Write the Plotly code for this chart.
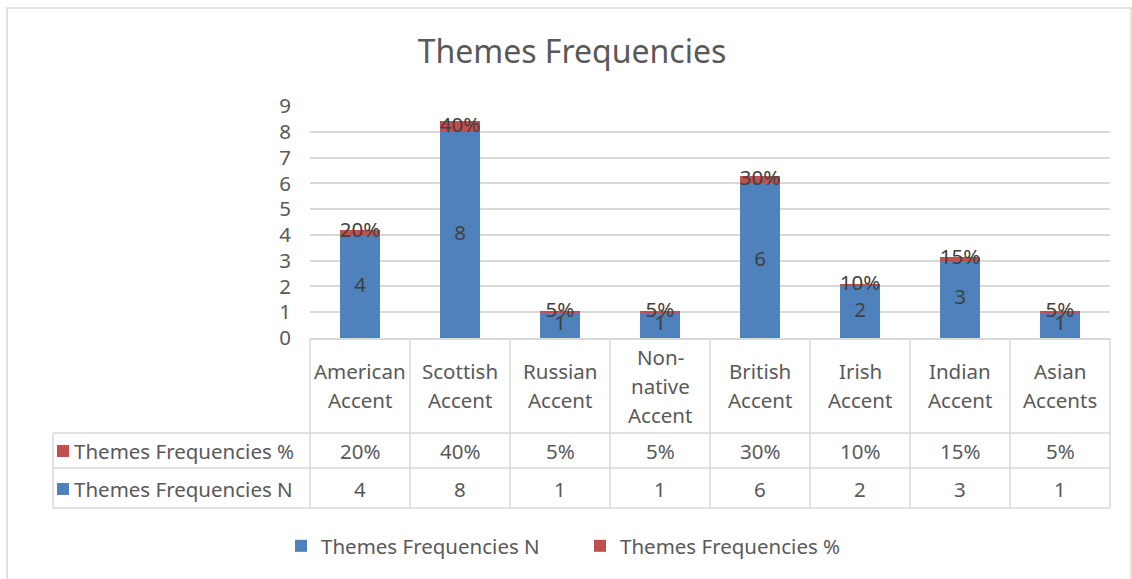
import plotly.graph_objects as go

# ---------------- data ----------------
categories = ["American Accent", "Scottish Accent", "Russian Accent", "Non-native Accent",
              "British Accent", "Irish Accent", "Indian Accent", "Asian Accents"]
category_lines = [["American", "Accent"], ["Scottish", "Accent"], ["Russian", "Accent"],
                  ["Non-", "native", "Accent"], ["British", "Accent"], ["Irish", "Accent"],
                  ["Indian", "Accent"], ["Asian", "Accents"]]
freq_n = [4, 8, 1, 1, 6, 2, 3, 1]
freq_pct = [0.20, 0.40, 0.05, 0.05, 0.30, 0.10, 0.15, 0.05]
y_ticks = [0, 1, 2, 3, 4, 5, 6, 7, 8, 9]
series_names = ["Themes Frequencies N", "Themes Frequencies %"]
title_text = "Themes Frequencies"

# ---------------- style ----------------
W, H = 1132, 579
PL, PR, PT, PB = 310, 1110, 106, 338
BLUE, RED = "#4F81BD", "#C0504D"
GRID = "#D9D9D9"
TXT = "#595959"
DARK = "#404040"
FONT = "Noto Sans"
FS = 20.5


def px_x(p):
    return (p - PL) / (PR - PL)


def px_y(p):
    return (PB - p) / (PB - PT)


def pct_str(v):
    return f"{round(v * 100)}%"


fig = go.Figure()
fig.add_trace(go.Bar(x=categories, y=freq_n, name=series_names[0], marker_color=BLUE,
                     marker_line_width=0, width=0.4))
fig.add_trace(go.Bar(x=categories, y=freq_pct, name=series_names[1], marker_color=RED,
                     marker_line_width=0, width=0.4))

# bar labels (centered in each segment)
fig.add_trace(go.Scatter(x=categories, y=[n / 2 for n in freq_n], mode="text",
                         text=[str(n) for n in freq_n], showlegend=False, hoverinfo="skip",
                         textfont=dict(family=FONT, size=FS, color=DARK), cliponaxis=False))
fig.add_trace(go.Scatter(x=categories, y=[n + p / 2 for n, p in zip(freq_n, freq_pct)],
                         mode="text", text=[pct_str(p) for p in freq_pct], showlegend=False,
                         hoverinfo="skip", textfont=dict(family=FONT, size=FS, color=DARK),
                         cliponaxis=False))

shapes = []
annotations = []
ncat = len(categories)
cell_w = (PR - PL) / ncat

# vertical lines of the data table
for k in range(ncat + 1):
    xp = px_x(PL + k * cell_w)
    shapes.append(dict(type="line", xref="paper", yref="paper", x0=xp, x1=xp,
                       y0=px_y(PB), y1=px_y(508), line=dict(color=GRID, width=1.5)))
# left edge for row headers
shapes.append(dict(type="line", xref="paper", yref="paper", x0=px_x(53), x1=px_x(53),
                   y0=px_y(433), y1=px_y(508), line=dict(color=GRID, width=1.5)))
# horizontal lines
for yy in (433, 468, 508):
    shapes.append(dict(type="line", xref="paper", yref="paper", x0=px_x(53), x1=px_x(PR),
                       y0=px_y(yy), y1=px_y(yy), line=dict(color=GRID, width=1.5)))

# category labels
for i, lines in enumerate(category_lines):
    n = len(lines)
    for k, ln in enumerate(lines):
        yc = 385.5 + (k - (n - 1) / 2) * 29
        annotations.append(dict(x=categories[i], xref="x", y=px_y(yc), yref="paper",
                                text=ln, showarrow=False, xanchor="center", yanchor="middle",
                                font=dict(family=FONT, size=FS, color=TXT)))

# row headers and values
rows = [(series_names[1], RED, [pct_str(p) for p in freq_pct], 451),
        (series_names[0], BLUE, [str(n) for n in freq_n], 489)]
for name, col, vals, yc in rows:
    shapes.append(dict(type="rect", xref="paper", yref="paper", x0=px_x(57), x1=px_x(69),
                       y0=px_y(yc - 6), y1=px_y(yc + 6), fillcolor=col, line=dict(width=0)))
    annotations.append(dict(x=px_x(72), xref="paper", y=px_y(yc), yref="paper", text=name,
                            showarrow=False, xanchor="left", yanchor="middle",
                            font=dict(family=FONT, size=FS, color=TXT)))
    for i, v in enumerate(vals):
        annotations.append(dict(x=categories[i], xref="x", y=px_y(yc), yref="paper", text=v,
                                showarrow=False, xanchor="center", yanchor="middle",
                                font=dict(family=FONT, size=FS, color=TXT)))

# outer chart border
shapes.append(dict(type="rect", xref="paper", yref="paper", x0=px_x(7), x1=px_x(1131),
                   y0=px_y(600), y1=px_y(8), line=dict(color=GRID, width=1.5),
                   fillcolor="rgba(0,0,0,0)", layer="below"))

fig.update_layout(
    width=W, height=H,
    margin=dict(l=PL, r=W - PR, t=PT, b=H - PB),
    barmode="stack",
    plot_bgcolor="white", paper_bgcolor="white",
    font=dict(family=FONT, size=FS, color=TXT),
    title=dict(text=title_text, x=572 / W, xanchor="center", y=1 - 52 / H, yanchor="middle",
               yref="container", font=dict(family=FONT, size=32, color=TXT)),
    xaxis=dict(showticklabels=False, showgrid=False, zeroline=False, showline=True,
               linecolor=GRID, linewidth=1.5, ticks="", range=[-0.5, ncat - 0.5]),
    yaxis=dict(range=[0, 9], tickvals=y_ticks, showgrid=True, gridcolor=GRID, gridwidth=1.5,
               zeroline=False, showline=False, ticks="", ticklabelstandoff=18,
               tickfont=dict(family=FONT, size=FS, color=TXT)),
    legend=dict(orientation="h", x=px_x(281), xanchor="left", y=px_y(546), yanchor="middle",
                font=dict(family=FONT, size=FS, color=TXT), traceorder="normal",
                entrywidth=254, itemclick=False),
    shapes=shapes, annotations=annotations,
    showlegend=True,
)

fig.write_html("out.html")
